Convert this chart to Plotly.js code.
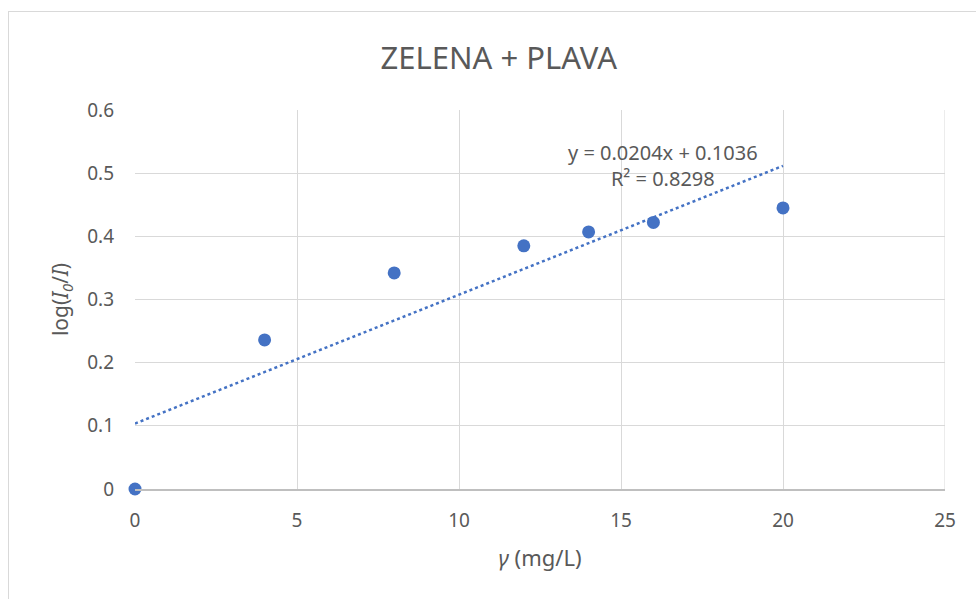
<!DOCTYPE html>
<html>
<head>
<meta charset="utf-8">
<script src="https://cdn.plot.ly/plotly-3.0.1.min.js"></script>
<style>
  html, body { margin: 0; padding: 0; background: #ffffff; }
  #wrap { position: relative; width: 976px; height: 599px; overflow: hidden; }
  #frame { position: absolute; left: 8px; top: 11px; width: 1000px; height: 700px;
           border-left: 1px solid #d9d9d9; border-top: 1px solid #d9d9d9; box-sizing: border-box; pointer-events: none; }
  #chart { position: absolute; left: 0; top: 0; width: 976px; height: 599px; }
</style>
</head>
<body>
<div id="wrap">
  <div id="chart"></div>
  <div id="frame"></div>
</div>
<script>
// Data
const concentration = [0, 4, 8, 12, 14, 16, 20];            // γ (mg/L)
const absorbance    = [0, 0.236, 0.342, 0.385, 0.407, 0.422, 0.445]; // log(I0/I)

// Linear trendline as displayed on the chart
const trendSlope = 0.0204;
const trendIntercept = 0.1036;
const trendRange = [0, 20];
const trendLabel = 'y = 0.0204x + 0.1036<br>R² = 0.8298';

const titleText = 'ZELENA + PLAVA';
const xTickVals = [0, 5, 10, 15, 20, 25];
const yTickVals = [0, 0.1, 0.2, 0.3, 0.4, 0.5, 0.6];

const trendX = trendRange.slice();
const trendY = trendX.map(x => trendSlope * x + trendIntercept);

const blue = '#4472c4';
const textColor = '#595959';
const gridColor = '#d9d9d9';
const fontFam = 'Noto Sans, Open Sans, sans-serif';

const traces = [
  {
    x: trendX, y: trendY, type: 'scatter', mode: 'lines',
    line: { color: blue, width: 2.5, dash: 'dot' },
    hoverinfo: 'skip', showlegend: false
  },
  {
    x: concentration, y: absorbance, type: 'scatter', mode: 'markers',
    marker: { color: blue, size: 13 },
    showlegend: false, cliponaxis: false
  }
];

const layout = {
  width: 976, height: 599,
  margin: { l: 135, r: 31, t: 110, b: 110 },
  paper_bgcolor: '#ffffff', plot_bgcolor: '#ffffff',
  font: { family: fontFam, color: textColor, size: 18 },
  title: { text: titleText, font: { size: 31, color: textColor, family: fontFam },
           x: 0.511, xanchor: 'center', y: 0.903, yanchor: 'middle' },
  xaxis: {
    range: [0, 25], tickvals: xTickVals, ticks: '', zeroline: false,
    showgrid: true, gridcolor: gridColor, gridwidth: 1,
    showline: true, linecolor: '#bfbfbf', linewidth: 1.5,
    ticklabelstandoff: 14,
    tickfont: { size: 19, color: textColor },
    title: { text: '<i>γ</i> (mg/L)', font: { size: 22, color: textColor }, standoff: 18 },
    fixedrange: true
  },
  yaxis: {
    range: [0, 0.6], tickvals: yTickVals, ticks: '', zeroline: false,
    showgrid: true, gridcolor: gridColor, gridwidth: 1,
    showline: false,
    ticklabelstandoff: 20,
    tickfont: { size: 19, color: textColor },
    title: { text: 'log(<i>I</i><sub><i>0</i></sub>/<i>I</i>)', font: { size: 21, color: textColor }, standoff: 12 },
    fixedrange: true
  },
  shapes: [
    { type: 'line', xref: 'x', yref: 'paper', x0: 25, x1: 25, y0: 0, y1: 1,
      line: { color: gridColor, width: 1 } }
  ],
  annotations: [
    { x: 16.3, y: 0.512, xref: 'x', yref: 'y', text: trendLabel, showarrow: false,
      font: { size: 20, color: textColor }, align: 'center', xanchor: 'center', yanchor: 'middle' }
  ]
};

Plotly.newPlot('chart', traces, layout, { displayModeBar: false, staticPlot: true });
</script>
</body>
</html>
